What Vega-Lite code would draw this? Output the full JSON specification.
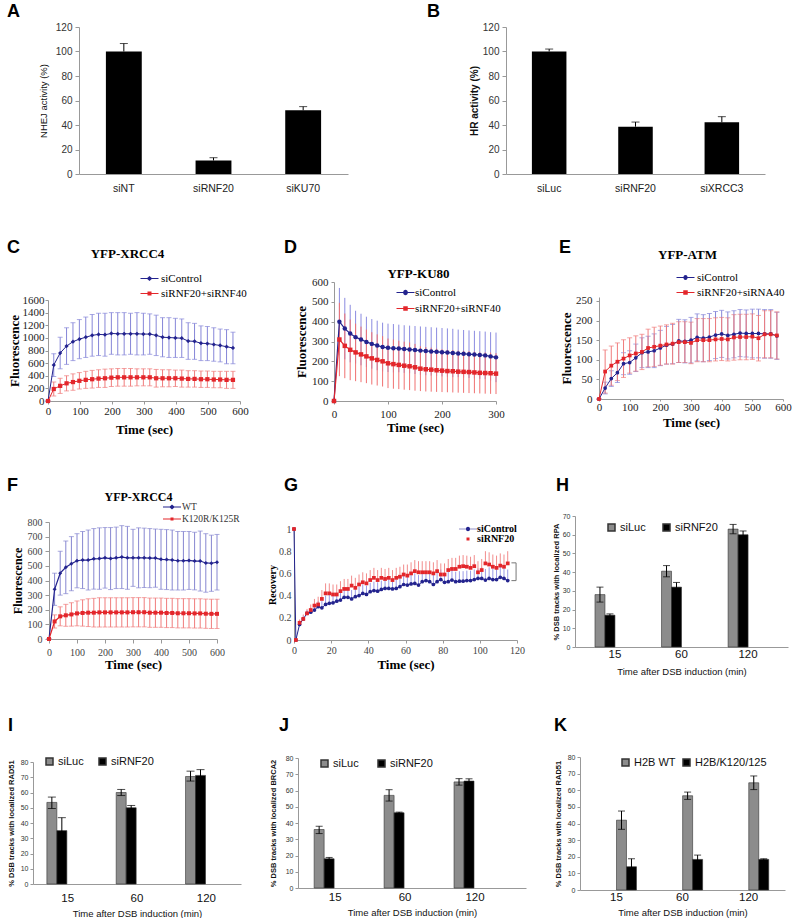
{
"$schema":"https://vega.github.io/schema/vega-lite/v6.json",
"padding":{"left":6,"top":2,"right":0,"bottom":0},
"background":"white",
"config":{
 "view":{"stroke":null},
 "font":"Liberation Sans",
 "axis":{"grid":false,"domainColor":"#999","tickColor":"#999","labelColor":"#333","titleColor":"#111","labelFont":"Liberation Sans","titleFont":"Liberation Sans","labelFlush":false,"labelOverlap":false,"labelBound":false},
 "title":{"font":"Liberation Sans","fontSize":18,"fontWeight":"bold","anchor":"start","frame":"group","color":"#000","baseline":"alphabetic"},
 "legend":{"padding":0}
},
"datasets":{
 "a":[{"c":"siNT","v":100,"hi":106.5},{"c":"siRNF20","v":11,"hi":13.3},{"c":"siKU70","v":52,"hi":55}],
 "b":[{"c":"siLuc","v":100,"hi":102},{"c":"siRNF20","v":38.6,"hi":42.4},{"c":"siXRCC3","v":42.2,"hi":46.8}],
 "c":[
{"t":0,"s":"siControl","v":0,"e":0},{"t":18,"s":"siControl","v":570,"e":180},{"t":38,"s":"siControl","v":760,"e":250},{"t":58,"s":"siControl","v":870,"e":290},{"t":78,"s":"siControl","v":940,"e":300},{"t":98,"s":"siControl","v":980,"e":310},{"t":118,"s":"siControl","v":1010,"e":320},{"t":138,"s":"siControl","v":1040,"e":330},{"t":158,"s":"siControl","v":1055,"e":335},{"t":178,"s":"siControl","v":1050,"e":340},{"t":198,"s":"siControl","v":1070,"e":330},{"t":218,"s":"siControl","v":1065,"e":335},{"t":238,"s":"siControl","v":1065,"e":335},{"t":258,"s":"siControl","v":1065,"e":325},{"t":278,"s":"siControl","v":1065,"e":335},{"t":298,"s":"siControl","v":1060,"e":330},{"t":318,"s":"siControl","v":1060,"e":320},{"t":338,"s":"siControl","v":1040,"e":320},{"t":358,"s":"siControl","v":1010,"e":310},{"t":378,"s":"siControl","v":1005,"e":315},{"t":398,"s":"siControl","v":1000,"e":310},{"t":418,"s":"siControl","v":995,"e":305},{"t":438,"s":"siControl","v":950,"e":290},{"t":458,"s":"siControl","v":945,"e":285},{"t":478,"s":"siControl","v":915,"e":275},{"t":498,"s":"siControl","v":910,"e":270},{"t":518,"s":"siControl","v":895,"e":265},{"t":538,"s":"siControl","v":880,"e":260},{"t":558,"s":"siControl","v":860,"e":270},{"t":578,"s":"siControl","v":840,"e":250},
{"t":0,"s":"siRNF20+siRNF40","v":0,"e":0},{"t":18,"s":"siRNF20+siRNF40","v":190,"e":110},{"t":38,"s":"siRNF20+siRNF40","v":240,"e":120},{"t":58,"s":"siRNF20+siRNF40","v":280,"e":120},{"t":78,"s":"siRNF20+siRNF40","v":300,"e":130},{"t":98,"s":"siRNF20+siRNF40","v":320,"e":130},{"t":118,"s":"siRNF20+siRNF40","v":335,"e":135},{"t":138,"s":"siRNF20+siRNF40","v":345,"e":140},{"t":158,"s":"siRNF20+siRNF40","v":355,"e":140},{"t":178,"s":"siRNF20+siRNF40","v":360,"e":145},{"t":198,"s":"siRNF20+siRNF40","v":370,"e":140},{"t":218,"s":"siRNF20+siRNF40","v":375,"e":140},{"t":238,"s":"siRNF20+siRNF40","v":375,"e":140},{"t":258,"s":"siRNF20+siRNF40","v":375,"e":140},{"t":278,"s":"siRNF20+siRNF40","v":375,"e":135},{"t":298,"s":"siRNF20+siRNF40","v":375,"e":135},{"t":318,"s":"siRNF20+siRNF40","v":375,"e":135},{"t":338,"s":"siRNF20+siRNF40","v":360,"e":140},{"t":358,"s":"siRNF20+siRNF40","v":360,"e":135},{"t":378,"s":"siRNF20+siRNF40","v":360,"e":135},{"t":398,"s":"siRNF20+siRNF40","v":360,"e":130},{"t":418,"s":"siRNF20+siRNF40","v":355,"e":135},{"t":438,"s":"siRNF20+siRNF40","v":350,"e":130},{"t":458,"s":"siRNF20+siRNF40","v":350,"e":130},{"t":478,"s":"siRNF20+siRNF40","v":345,"e":130},{"t":498,"s":"siRNF20+siRNF40","v":345,"e":130},{"t":518,"s":"siRNF20+siRNF40","v":340,"e":130},{"t":538,"s":"siRNF20+siRNF40","v":340,"e":130},{"t":558,"s":"siRNF20+siRNF40","v":335,"e":135},{"t":578,"s":"siRNF20+siRNF40","v":335,"e":135}],
 "d":[
{"t":0,"s":"siControl","v":0,"e":0},{"t":10,"s":"siControl","v":400,"e":170},{"t":20,"s":"siControl","v":365,"e":155},{"t":30,"s":"siControl","v":340,"e":145},{"t":40,"s":"siControl","v":322,"e":133},{"t":50,"s":"siControl","v":310,"e":130},{"t":60,"s":"siControl","v":298,"e":127},{"t":70,"s":"siControl","v":288,"e":125},{"t":80,"s":"siControl","v":280,"e":125},{"t":90,"s":"siControl","v":272,"e":123},{"t":100,"s":"siControl","v":268,"e":122},{"t":110,"s":"siControl","v":266,"e":122},{"t":120,"s":"siControl","v":265,"e":120},{"t":130,"s":"siControl","v":262,"e":120},{"t":140,"s":"siControl","v":260,"e":120},{"t":150,"s":"siControl","v":257,"e":121},{"t":160,"s":"siControl","v":254,"e":122},{"t":170,"s":"siControl","v":252,"e":122},{"t":180,"s":"siControl","v":250,"e":122},{"t":190,"s":"siControl","v":248,"e":122},{"t":200,"s":"siControl","v":246,"e":122},{"t":210,"s":"siControl","v":244,"e":122},{"t":220,"s":"siControl","v":242,"e":122},{"t":230,"s":"siControl","v":240,"e":120},{"t":240,"s":"siControl","v":238,"e":120},{"t":250,"s":"siControl","v":236,"e":120},{"t":260,"s":"siControl","v":234,"e":120},{"t":270,"s":"siControl","v":232,"e":120},{"t":280,"s":"siControl","v":230,"e":120},{"t":290,"s":"siControl","v":225,"e":122},{"t":300,"s":"siControl","v":220,"e":125},
{"t":0,"s":"siRNF20+siRNF40","v":0,"e":0},{"t":10,"s":"siRNF20+siRNF40","v":310,"e":185},{"t":20,"s":"siRNF20+siRNF40","v":278,"e":163},{"t":30,"s":"siRNF20+siRNF40","v":258,"e":153},{"t":40,"s":"siRNF20+siRNF40","v":245,"e":145},{"t":50,"s":"siRNF20+siRNF40","v":235,"e":140},{"t":60,"s":"siRNF20+siRNF40","v":225,"e":135},{"t":70,"s":"siRNF20+siRNF40","v":215,"e":132},{"t":80,"s":"siRNF20+siRNF40","v":207,"e":129},{"t":90,"s":"siRNF20+siRNF40","v":200,"e":127},{"t":100,"s":"siRNF20+siRNF40","v":190,"e":125},{"t":110,"s":"siRNF20+siRNF40","v":186,"e":124},{"t":120,"s":"siRNF20+siRNF40","v":182,"e":122},{"t":130,"s":"siRNF20+siRNF40","v":178,"e":121},{"t":140,"s":"siRNF20+siRNF40","v":175,"e":120},{"t":150,"s":"siRNF20+siRNF40","v":170,"e":118},{"t":160,"s":"siRNF20+siRNF40","v":163,"e":113},{"t":170,"s":"siRNF20+siRNF40","v":160,"e":112},{"t":180,"s":"siRNF20+siRNF40","v":158,"e":111},{"t":190,"s":"siRNF20+siRNF40","v":155,"e":109},{"t":200,"s":"siRNF20+siRNF40","v":153,"e":108},{"t":210,"s":"siRNF20+siRNF40","v":151,"e":107},{"t":220,"s":"siRNF20+siRNF40","v":150,"e":107},{"t":230,"s":"siRNF20+siRNF40","v":148,"e":106},{"t":240,"s":"siRNF20+siRNF40","v":147,"e":106},{"t":250,"s":"siRNF20+siRNF40","v":146,"e":106},{"t":260,"s":"siRNF20+siRNF40","v":144,"e":105},{"t":270,"s":"siRNF20+siRNF40","v":142,"e":104},{"t":280,"s":"siRNF20+siRNF40","v":141,"e":104},{"t":290,"s":"siRNF20+siRNF40","v":140,"e":104},{"t":300,"s":"siRNF20+siRNF40","v":138,"e":103}],
 "e":[
{"t":0,"s":"siControl","v":0,"e":0},{"t":20,"s":"siControl","v":28,"e":15},{"t":40,"s":"siControl","v":52,"e":20},{"t":60,"s":"siControl","v":67,"e":25},{"t":80,"s":"siControl","v":90,"e":28},{"t":100,"s":"siControl","v":93,"e":30},{"t":120,"s":"siControl","v":105,"e":35},{"t":140,"s":"siControl","v":118,"e":38},{"t":160,"s":"siControl","v":120,"e":40},{"t":180,"s":"siControl","v":123,"e":43},{"t":200,"s":"siControl","v":130,"e":45},{"t":220,"s":"siControl","v":137,"e":48},{"t":240,"s":"siControl","v":140,"e":50},{"t":260,"s":"siControl","v":148,"e":55},{"t":280,"s":"siControl","v":147,"e":55},{"t":300,"s":"siControl","v":150,"e":58},{"t":320,"s":"siControl","v":157,"e":60},{"t":340,"s":"siControl","v":155,"e":60},{"t":360,"s":"siControl","v":158,"e":60},{"t":380,"s":"siControl","v":163,"e":60},{"t":400,"s":"siControl","v":166,"e":60},{"t":420,"s":"siControl","v":162,"e":60},{"t":440,"s":"siControl","v":165,"e":60},{"t":460,"s":"siControl","v":168,"e":60},{"t":480,"s":"siControl","v":167,"e":60},{"t":500,"s":"siControl","v":167,"e":62},{"t":520,"s":"siControl","v":167,"e":62},{"t":540,"s":"siControl","v":166,"e":62},{"t":560,"s":"siControl","v":166,"e":62},{"t":580,"s":"siControl","v":161,"e":60},
{"t":0,"s":"siRNF20+siRNA40","v":0,"e":0},{"t":20,"s":"siRNF20+siRNA40","v":70,"e":55},{"t":40,"s":"siRNF20+siRNA40","v":85,"e":50},{"t":60,"s":"siRNF20+siRNA40","v":95,"e":48},{"t":80,"s":"siRNF20+siRNA40","v":103,"e":48},{"t":100,"s":"siRNF20+siRNA40","v":111,"e":45},{"t":120,"s":"siRNF20+siRNA40","v":116,"e":45},{"t":140,"s":"siRNF20+siRNA40","v":120,"e":45},{"t":160,"s":"siRNF20+siRNA40","v":130,"e":48},{"t":180,"s":"siRNF20+siRNA40","v":133,"e":50},{"t":200,"s":"siRNF20+siRNA40","v":136,"e":50},{"t":220,"s":"siRNF20+siRNA40","v":139,"e":50},{"t":240,"s":"siRNF20+siRNA40","v":141,"e":52},{"t":260,"s":"siRNF20+siRNA40","v":145,"e":52},{"t":280,"s":"siRNF20+siRNA40","v":145,"e":52},{"t":300,"s":"siRNF20+siRNA40","v":143,"e":53},{"t":320,"s":"siRNF20+siRNA40","v":150,"e":55},{"t":340,"s":"siRNF20+siRNA40","v":150,"e":55},{"t":360,"s":"siRNF20+siRNA40","v":150,"e":55},{"t":380,"s":"siRNF20+siRNA40","v":152,"e":55},{"t":400,"s":"siRNF20+siRNA40","v":153,"e":55},{"t":420,"s":"siRNF20+siRNA40","v":152,"e":55},{"t":440,"s":"siRNF20+siRNA40","v":157,"e":58},{"t":460,"s":"siRNF20+siRNA40","v":158,"e":58},{"t":480,"s":"siRNF20+siRNA40","v":158,"e":58},{"t":500,"s":"siRNF20+siRNA40","v":159,"e":58},{"t":520,"s":"siRNF20+siRNA40","v":155,"e":58},{"t":540,"s":"siRNF20+siRNA40","v":165,"e":60},{"t":560,"s":"siRNF20+siRNA40","v":165,"e":60},{"t":580,"s":"siRNF20+siRNA40","v":162,"e":60}],
 "f":[
{"t":0,"s":"WT","v":0,"e":0},{"t":20,"s":"WT","v":340,"e":110},{"t":40,"s":"WT","v":450,"e":150},{"t":60,"s":"WT","v":490,"e":180},{"t":80,"s":"WT","v":515,"e":185},{"t":100,"s":"WT","v":535,"e":185},{"t":120,"s":"WT","v":540,"e":195},{"t":140,"s":"WT","v":540,"e":205},{"t":160,"s":"WT","v":548,"e":207},{"t":180,"s":"WT","v":550,"e":210},{"t":200,"s":"WT","v":555,"e":207},{"t":220,"s":"WT","v":550,"e":212},{"t":240,"s":"WT","v":555,"e":210},{"t":260,"s":"WT","v":560,"e":215},{"t":280,"s":"WT","v":555,"e":215},{"t":300,"s":"WT","v":555,"e":195},{"t":320,"s":"WT","v":555,"e":205},{"t":340,"s":"WT","v":555,"e":203},{"t":360,"s":"WT","v":553,"e":202},{"t":380,"s":"WT","v":553,"e":199},{"t":400,"s":"WT","v":545,"e":205},{"t":420,"s":"WT","v":543,"e":205},{"t":440,"s":"WT","v":540,"e":205},{"t":460,"s":"WT","v":535,"e":200},{"t":480,"s":"WT","v":535,"e":200},{"t":500,"s":"WT","v":537,"e":198},{"t":520,"s":"WT","v":533,"e":197},{"t":540,"s":"WT","v":533,"e":205},{"t":560,"s":"WT","v":520,"e":200},{"t":580,"s":"WT","v":518,"e":192},{"t":600,"s":"WT","v":525,"e":190},
{"t":0,"s":"K120R/K125R","v":0,"e":0},{"t":20,"s":"K120R/K125R","v":120,"e":45},{"t":40,"s":"K120R/K125R","v":155,"e":65},{"t":60,"s":"K120R/K125R","v":162,"e":75},{"t":80,"s":"K120R/K125R","v":168,"e":80},{"t":100,"s":"K120R/K125R","v":175,"e":85},{"t":120,"s":"K120R/K125R","v":178,"e":90},{"t":140,"s":"K120R/K125R","v":180,"e":95},{"t":160,"s":"K120R/K125R","v":180,"e":98},{"t":180,"s":"K120R/K125R","v":182,"e":100},{"t":200,"s":"K120R/K125R","v":182,"e":100},{"t":220,"s":"K120R/K125R","v":182,"e":100},{"t":240,"s":"K120R/K125R","v":182,"e":100},{"t":260,"s":"K120R/K125R","v":182,"e":100},{"t":280,"s":"K120R/K125R","v":182,"e":100},{"t":300,"s":"K120R/K125R","v":183,"e":100},{"t":320,"s":"K120R/K125R","v":183,"e":100},{"t":340,"s":"K120R/K125R","v":183,"e":100},{"t":360,"s":"K120R/K125R","v":180,"e":100},{"t":380,"s":"K120R/K125R","v":180,"e":100},{"t":400,"s":"K120R/K125R","v":180,"e":100},{"t":420,"s":"K120R/K125R","v":178,"e":100},{"t":440,"s":"K120R/K125R","v":178,"e":100},{"t":460,"s":"K120R/K125R","v":176,"e":100},{"t":480,"s":"K120R/K125R","v":176,"e":100},{"t":500,"s":"K120R/K125R","v":176,"e":100},{"t":520,"s":"K120R/K125R","v":175,"e":100},{"t":540,"s":"K120R/K125R","v":175,"e":100},{"t":560,"s":"K120R/K125R","v":173,"e":100},{"t":580,"s":"K120R/K125R","v":172,"e":100},{"t":600,"s":"K120R/K125R","v":172,"e":100}],
 "g":[
{"t":0,"s":"siControl","v":1,"hi":1},{"t":1,"s":"siControl","v":0,"hi":0},{"t":3,"s":"siControl","v":0.14,"hi":0.16},{"t":5,"s":"siControl","v":0.19,"hi":0.22},{"t":7,"s":"siControl","v":0.24,"hi":0.27},{"t":9,"s":"siControl","v":0.25,"hi":0.29},{"t":11,"s":"siControl","v":0.27,"hi":0.32},{"t":13,"s":"siControl","v":0.3,"hi":0.35},{"t":15,"s":"siControl","v":0.29,"hi":0.35},{"t":17,"s":"siControl","v":0.32,"hi":0.4},{"t":19,"s":"siControl","v":0.33,"hi":0.41},{"t":21,"s":"siControl","v":0.335,"hi":0.415},{"t":23,"s":"siControl","v":0.35,"hi":0.43},{"t":25,"s":"siControl","v":0.36,"hi":0.44},{"t":27,"s":"siControl","v":0.385,"hi":0.465},{"t":29,"s":"siControl","v":0.385,"hi":0.465},{"t":31,"s":"siControl","v":0.37,"hi":0.45},{"t":33,"s":"siControl","v":0.39,"hi":0.47},{"t":35,"s":"siControl","v":0.4,"hi":0.48},{"t":37,"s":"siControl","v":0.42,"hi":0.5},{"t":39,"s":"siControl","v":0.41,"hi":0.49},{"t":41,"s":"siControl","v":0.435,"hi":0.515},{"t":43,"s":"siControl","v":0.445,"hi":0.525},{"t":45,"s":"siControl","v":0.44,"hi":0.52},{"t":47,"s":"siControl","v":0.455,"hi":0.535},{"t":49,"s":"siControl","v":0.465,"hi":0.545},{"t":51,"s":"siControl","v":0.465,"hi":0.545},{"t":53,"s":"siControl","v":0.46,"hi":0.54},{"t":55,"s":"siControl","v":0.465,"hi":0.545},{"t":57,"s":"siControl","v":0.48,"hi":0.56},{"t":59,"s":"siControl","v":0.5,"hi":0.58},{"t":61,"s":"siControl","v":0.495,"hi":0.585},{"t":63,"s":"siControl","v":0.505,"hi":0.595},{"t":65,"s":"siControl","v":0.51,"hi":0.6},{"t":67,"s":"siControl","v":0.495,"hi":0.585},{"t":69,"s":"siControl","v":0.525,"hi":0.615},{"t":71,"s":"siControl","v":0.535,"hi":0.625},{"t":73,"s":"siControl","v":0.525,"hi":0.615},{"t":75,"s":"siControl","v":0.5,"hi":0.59},{"t":77,"s":"siControl","v":0.525,"hi":0.615},{"t":79,"s":"siControl","v":0.545,"hi":0.635},{"t":81,"s":"siControl","v":0.52,"hi":0.61},{"t":83,"s":"siControl","v":0.525,"hi":0.615},{"t":85,"s":"siControl","v":0.54,"hi":0.63},{"t":87,"s":"siControl","v":0.525,"hi":0.615},{"t":89,"s":"siControl","v":0.53,"hi":0.62},{"t":91,"s":"siControl","v":0.53,"hi":0.62},{"t":93,"s":"siControl","v":0.535,"hi":0.625},{"t":95,"s":"siControl","v":0.535,"hi":0.625},{"t":97,"s":"siControl","v":0.545,"hi":0.635},{"t":99,"s":"siControl","v":0.555,"hi":0.645},{"t":101,"s":"siControl","v":0.555,"hi":0.655},{"t":103,"s":"siControl","v":0.54,"hi":0.64},{"t":105,"s":"siControl","v":0.555,"hi":0.655},{"t":107,"s":"siControl","v":0.545,"hi":0.645},{"t":109,"s":"siControl","v":0.545,"hi":0.645},{"t":111,"s":"siControl","v":0.565,"hi":0.665},{"t":113,"s":"siControl","v":0.555,"hi":0.655},{"t":115,"s":"siControl","v":0.535,"hi":0.635},
{"t":0,"s":"siRNF20","v":1,"hi":1},{"t":1,"s":"siRNF20","v":0,"hi":0},{"t":3,"s":"siRNF20","v":0.155,"hi":0.185},{"t":5,"s":"siRNF20","v":0.19,"hi":0.23},{"t":7,"s":"siRNF20","v":0.24,"hi":0.28},{"t":9,"s":"siRNF20","v":0.27,"hi":0.32},{"t":11,"s":"siRNF20","v":0.31,"hi":0.37},{"t":13,"s":"siRNF20","v":0.32,"hi":0.39},{"t":15,"s":"siRNF20","v":0.37,"hi":0.45},{"t":17,"s":"siRNF20","v":0.42,"hi":0.51},{"t":19,"s":"siRNF20","v":0.42,"hi":0.51},{"t":21,"s":"siRNF20","v":0.41,"hi":0.5},{"t":23,"s":"siRNF20","v":0.41,"hi":0.5},{"t":25,"s":"siRNF20","v":0.44,"hi":0.53},{"t":27,"s":"siRNF20","v":0.46,"hi":0.55},{"t":29,"s":"siRNF20","v":0.46,"hi":0.55},{"t":31,"s":"siRNF20","v":0.49,"hi":0.58},{"t":33,"s":"siRNF20","v":0.47,"hi":0.56},{"t":35,"s":"siRNF20","v":0.5,"hi":0.59},{"t":37,"s":"siRNF20","v":0.52,"hi":0.61},{"t":39,"s":"siRNF20","v":0.51,"hi":0.6},{"t":41,"s":"siRNF20","v":0.54,"hi":0.63},{"t":43,"s":"siRNF20","v":0.56,"hi":0.65},{"t":45,"s":"siRNF20","v":0.54,"hi":0.63},{"t":47,"s":"siRNF20","v":0.56,"hi":0.65},{"t":49,"s":"siRNF20","v":0.55,"hi":0.64},{"t":51,"s":"siRNF20","v":0.56,"hi":0.65},{"t":53,"s":"siRNF20","v":0.54,"hi":0.63},{"t":55,"s":"siRNF20","v":0.56,"hi":0.65},{"t":57,"s":"siRNF20","v":0.57,"hi":0.66},{"t":59,"s":"siRNF20","v":0.59,"hi":0.68},{"t":61,"s":"siRNF20","v":0.58,"hi":0.68},{"t":63,"s":"siRNF20","v":0.6,"hi":0.7},{"t":65,"s":"siRNF20","v":0.62,"hi":0.72},{"t":67,"s":"siRNF20","v":0.61,"hi":0.71},{"t":69,"s":"siRNF20","v":0.61,"hi":0.71},{"t":71,"s":"siRNF20","v":0.61,"hi":0.71},{"t":73,"s":"siRNF20","v":0.61,"hi":0.71},{"t":75,"s":"siRNF20","v":0.6,"hi":0.7},{"t":77,"s":"siRNF20","v":0.62,"hi":0.72},{"t":79,"s":"siRNF20","v":0.59,"hi":0.69},{"t":81,"s":"siRNF20","v":0.59,"hi":0.69},{"t":83,"s":"siRNF20","v":0.63,"hi":0.73},{"t":85,"s":"siRNF20","v":0.64,"hi":0.74},{"t":87,"s":"siRNF20","v":0.64,"hi":0.74},{"t":89,"s":"siRNF20","v":0.66,"hi":0.76},{"t":91,"s":"siRNF20","v":0.665,"hi":0.765},{"t":93,"s":"siRNF20","v":0.66,"hi":0.76},{"t":95,"s":"siRNF20","v":0.65,"hi":0.75},{"t":97,"s":"siRNF20","v":0.665,"hi":0.765},{"t":99,"s":"siRNF20","v":0.61,"hi":0.71},{"t":101,"s":"siRNF20","v":0.63,"hi":0.73},{"t":103,"s":"siRNF20","v":0.69,"hi":0.8},{"t":105,"s":"siRNF20","v":0.68,"hi":0.79},{"t":107,"s":"siRNF20","v":0.66,"hi":0.77},{"t":109,"s":"siRNF20","v":0.65,"hi":0.76},{"t":111,"s":"siRNF20","v":0.67,"hi":0.78},{"t":113,"s":"siRNF20","v":0.66,"hi":0.77},{"t":115,"s":"siRNF20","v":0.69,"hi":0.8}],
 "gb":[{"t":117,"v":0.535,"o":1},{"t":119.5,"v":0.535,"o":2},{"t":119.5,"v":0.695,"o":3},{"t":117,"v":0.695,"o":4}],
 "h":[{"m":"15","s":"siLuc","v":28,"lo":24,"hi":32},{"m":"15","s":"siRNF20","v":17,"lo":16.3,"hi":17.7},{"m":"60","s":"siLuc","v":40.5,"lo":37.5,"hi":43.5},{"m":"60","s":"siRNF20","v":32,"lo":29.5,"hi":34.5},{"m":"120","s":"siLuc","v":63,"lo":60.5,"hi":65.5},{"m":"120","s":"siRNF20","v":60,"lo":58,"hi":62}],
 "i":[{"m":"15","s":"siLuc","v":53.5,"lo":49.5,"hi":57},{"m":"15","s":"siRNF20","v":35,"lo":26.5,"hi":43.5},{"m":"60","s":"siLuc","v":60,"lo":58,"hi":62},{"m":"60","s":"siRNF20","v":50,"lo":49,"hi":51.5},{"m":"120","s":"siLuc","v":70.5,"lo":67.5,"hi":74},{"m":"120","s":"siRNF20","v":71.2,"lo":67.5,"hi":75}],
 "j":[{"m":"15","s":"siLuc","v":36,"lo":33.5,"hi":38},{"m":"15","s":"siRNF20","v":18,"lo":17.3,"hi":18.8},{"m":"60","s":"siLuc","v":57,"lo":53.5,"hi":60.5},{"m":"60","s":"siRNF20","v":46.3,"lo":45.9,"hi":46.7},{"m":"120","s":"siLuc","v":65.3,"lo":63.3,"hi":67.3},{"m":"120","s":"siRNF20","v":65.8,"lo":64.4,"hi":67.2}],
 "k":[{"m":"15","s":"H2B WT","v":42,"lo":36.5,"hi":47.5},{"m":"15","s":"H2B/K120/125","v":14,"lo":9.2,"hi":18.8},{"m":"60","s":"H2B WT","v":56.7,"lo":54.5,"hi":58.9},{"m":"60","s":"H2B/K120/125","v":18.4,"lo":15.8,"hi":21},{"m":"120","s":"H2B WT","v":64.5,"lo":60.4,"hi":68.6},{"m":"120","s":"H2B/K120/125","v":18.4,"lo":18,"hi":18.8}]
},
"resolve":{"scale":{"color":"independent","shape":"independent"},"legend":{"color":"independent","shape":"independent"}},
"spacing":40,
"vconcat":[
{"hconcat":[{"width":1,"height":1,"data":{"values":[]},"mark":"point"},
{"hconcat":[
 {"vconcat":[{"width":1,"height":1,"data":{"values":[]},"mark":"point"},
 {"title":{"text":"A","dx":-72,"offset":1},"width":269,"height":147,"data":{"name":"a"},
  "resolve":{"axis":{"x":"independent","y":"independent"}},
  "layer":[
   {"mark":{"type":"bar","color":"#000"},"encoding":{
     "x":{"field":"c","type":"nominal","sort":null,"scale":{"paddingInner":0.6,"paddingOuter":0.3},"axis":{"orient":"bottom","title":null,"labelAngle":0,"ticks":false,"labelFontSize":10.5,"labelColor":"#222","labelPadding":9}},
     "y":{"field":"v","type":"quantitative","scale":{"domain":[0,120]},"axis":{"orient":"left","title":"NHEJ activity (%)","values":[0,20,40,60,80,100,120],"labelFontSize":10,"tickSize":4,"labelPadding":3,"titleFontSize":9.5,"titleFontWeight":"normal","titlePadding":7}}}},
   {"mark":{"type":"rule","color":"#000"},"encoding":{"x":{"field":"c","type":"nominal","sort":null,"axis":null},"y":{"field":"v","type":"quantitative","axis":null},"y2":{"field":"hi"}}},
   {"mark":{"type":"tick","color":"#000","orient":"horizontal","size":8,"thickness":1},"encoding":{"x":{"field":"c","type":"nominal","sort":null,"axis":null},"y":{"field":"hi","type":"quantitative","axis":null}}}
  ]}],"spacing":0,"resolve":{"scale":{"color":"independent","shape":"independent"},"legend":{"color":"independent","shape":"independent"}}},
 {"vconcat":[{"width":1,"height":1,"data":{"values":[]},"mark":"point"},
 {"title":{"text":"B","dx":-79,"offset":1},"width":259,"height":147,"data":{"name":"b"},
  "resolve":{"axis":{"x":"independent","y":"independent"}},
  "layer":[
   {"mark":{"type":"bar","color":"#000"},"encoding":{
     "x":{"field":"c","type":"nominal","sort":null,"scale":{"paddingInner":0.6,"paddingOuter":0.3},"axis":{"orient":"bottom","title":null,"labelAngle":0,"ticks":false,"labelFontSize":10.5,"labelColor":"#222","labelPadding":9}},
     "y":{"field":"v","type":"quantitative","scale":{"domain":[0,120]},"axis":{"orient":"left","title":"HR activity (%)","values":[0,20,40,60,80,100,120],"labelFontSize":10,"tickSize":4,"labelPadding":3,"titleFontSize":10,"titleFontWeight":"bold","titlePadding":3}}}},
   {"mark":{"type":"rule","color":"#000"},"encoding":{"x":{"field":"c","type":"nominal","sort":null,"axis":null},"y":{"field":"v","type":"quantitative","axis":null},"y2":{"field":"hi"}}},
   {"mark":{"type":"tick","color":"#000","orient":"horizontal","size":8,"thickness":1},"encoding":{"x":{"field":"c","type":"nominal","sort":null,"axis":null},"y":{"field":"hi","type":"quantitative","axis":null}}}
  ]}],"spacing":0,"resolve":{"scale":{"color":"independent","shape":"independent"},"legend":{"color":"independent","shape":"independent"}}}
],"spacing":79,"resolve":{"scale":{"color":"independent","shape":"independent"},"legend":{"color":"independent","shape":"independent"}}}
],"spacing":0,"resolve":{"scale":{"color":"independent","shape":"independent"},"legend":{"color":"independent","shape":"independent"}}},
{"hconcat":[{"width":1,"height":1,"data":{"values":[]},"mark":"point"},
{"hconcat":[
 {"vconcat":[{"width":1,"height":5,"data":{"values":[]},"mark":"point"},
 {"title":{"text":"C","dx":-41,"offset":0,"dy":10},"width":192,"height":101,"data":{"name":"c"},
  "resolve":{"scale":{"color":"independent","shape":"independent"},"legend":{"color":"independent","shape":"independent"},"axis":{"x":"independent","y":"independent"}},
  "layer":[
   {"mark":{"type":"errorbar","ticks":true,"thickness":1,"size":5},"encoding":{
     "x":{"field":"t","type":"quantitative","scale":{"domain":[0,600]},"axis":null},
     "y":{"field":"v","type":"quantitative","scale":{"domain":[0,1600]},"axis":null},
     "yError":{"field":"e"},
     "color":{"field":"s","type":"nominal","scale":{"domain":["siControl","siRNF20+siRNF40"],"range":["#8686d8","#f07c7c"]},"legend":null}}},
   {"mark":{"type":"line","strokeWidth":1},"encoding":{
     "x":{"field":"t","type":"quantitative","axis":{"orient":"bottom","title":"Time (sec)","values":[0,100,200,300,400,500,600],"labelFont":"Liberation Serif","labelFontSize":11,"labelColor":"#222","tickSize":3,"labelPadding":1,"titleFont":"Liberation Serif","titleFontSize":13,"titleFontWeight":"bold","titleColor":"#000","titlePadding":7}},
     "y":{"field":"v","type":"quantitative","axis":{"orient":"left","title":"Fluorescence","values":[0,200,400,600,800,1000,1200,1400,1600],"format":"d","labelFont":"Liberation Serif","labelFontSize":11,"labelColor":"#222","tickSize":3,"labelPadding":1,"titleFont":"Liberation Serif","titleFontSize":13,"titleFontWeight":"bold","titleColor":"#000","titlePadding":1}},
     "color":{"field":"s","type":"nominal","scale":{"domain":["siControl","siRNF20+siRNF40"],"range":["#23238e","#e3262b"]},"legend":null}}},
   {"mark":{"type":"point","filled":true,"opacity":1,"size":18},"encoding":{
     "x":{"field":"t","type":"quantitative","axis":null},"y":{"field":"v","type":"quantitative","axis":null},
     "color":{"field":"s","type":"nominal","scale":{"domain":["siControl","siRNF20+siRNF40"],"range":["#23238e","#e3262b"]},"legend":null},
     "shape":{"field":"s","type":"nominal","scale":{"domain":["siControl","siRNF20+siRNF40"],"range":["diamond","square"]},"legend":null}}},
   {"transform":[{"filter":"false"}],"mark":{"type":"point","filled":true,"opacity":1,"size":100},"encoding":{
     "x":{"field":"t","type":"quantitative","axis":{"orient":"top","title":"YFP-XRCC4","domain":false,"ticks":false,"labels":false,"titleFont":"Liberation Serif","titleFontSize":13,"titleFontWeight":"bold","titleColor":"#000","titleX":79,"titleY":-43,"titleBaseline":"alphabetic"}},
     "y":{"field":"v","type":"quantitative","axis":null},
     "color":{"field":"s","type":"nominal","scale":{"domain":["siControl","siRNF20+siRNF40"],"range":["#23238e","#e3262b"]},"legend":{"orient":"none","legendX":96,"legendY":-27,"title":null,"labelFont":"Liberation Serif","labelFontSize":11,"labelColor":"#000","symbolStrokeWidth":0,"rowPadding":3,"labelOffset":6}},
     "shape":{"field":"s","type":"nominal","scale":{"domain":["siControl","siRNF20+siRNF40"],"range":["M-1.8,-0.08H-0.45L0,-0.5L0.45,-0.08H1.8V0.08H0.45L0,0.5L-0.45,0.08H-1.8Z","M-1.8,-0.08H-0.4V-0.4H0.4V-0.08H1.8V0.08H0.4V0.4H-0.4V0.08H-1.8Z"]},"legend":{"orient":"none","legendX":96,"legendY":-27,"title":null,"labelFont":"Liberation Serif","labelFontSize":11,"labelColor":"#000","symbolStrokeWidth":0,"rowPadding":3,"labelOffset":6}}}}
  ]}],"spacing":0,"resolve":{"scale":{"color":"independent","shape":"independent"},"legend":{"color":"independent","shape":"independent"}}},
 {"vconcat":[{"width":1,"height":5,"data":{"values":[]},"mark":"point"},
 {"title":{"text":"D","dx":-50,"offset":10},"width":162,"height":119,"data":{"name":"d"},
  "resolve":{"scale":{"color":"independent","shape":"independent"},"legend":{"color":"independent","shape":"independent"},"axis":{"x":"independent","y":"independent"}},
  "layer":[
   {"mark":{"type":"errorbar","ticks":false,"thickness":1},"encoding":{
     "x":{"field":"t","type":"quantitative","scale":{"domain":[0,300]},"axis":null},
     "y":{"field":"v","type":"quantitative","scale":{"domain":[0,600]},"axis":null},
     "yError":{"field":"e"},
     "color":{"field":"s","type":"nominal","scale":{"domain":["siControl","siRNF20+siRNF40"],"range":["#8a8ae0","#f07070"]},"legend":null}}},
   {"mark":{"type":"line","strokeWidth":1.2},"encoding":{
     "x":{"field":"t","type":"quantitative","axis":{"orient":"bottom","title":"Time (sec)","values":[0,100,200,300],"labelFont":"Liberation Serif","labelFontSize":11,"labelColor":"#222","tickSize":3,"labelPadding":4,"titleFont":"Liberation Serif","titleFontSize":13,"titleFontWeight":"bold","titleColor":"#000","titlePadding":2}},
     "y":{"field":"v","type":"quantitative","axis":{"orient":"left","title":"Fluorescence","values":[0,100,200,300,400,500,600],"labelFont":"Liberation Serif","labelFontSize":11,"labelColor":"#222","tickSize":3,"labelPadding":3,"titleFont":"Liberation Serif","titleFontSize":13,"titleFontWeight":"bold","titleColor":"#000","titlePadding":3}},
     "color":{"field":"s","type":"nominal","scale":{"domain":["siControl","siRNF20+siRNF40"],"range":["#23238e","#e3262b"]},"legend":null}}},
   {"mark":{"type":"point","filled":true,"opacity":1,"size":20},"encoding":{
     "x":{"field":"t","type":"quantitative","axis":null},"y":{"field":"v","type":"quantitative","axis":null},
     "color":{"field":"s","type":"nominal","scale":{"domain":["siControl","siRNF20+siRNF40"],"range":["#23238e","#e3262b"]},"legend":null},
     "shape":{"field":"s","type":"nominal","scale":{"domain":["siControl","siRNF20+siRNF40"],"range":["circle","square"]},"legend":null}}},
   {"transform":[{"filter":"false"}],"mark":{"type":"point","filled":true,"opacity":1,"size":100},"encoding":{
     "x":{"field":"t","type":"quantitative","axis":{"orient":"top","title":"YFP-KU80","domain":false,"ticks":false,"labels":false,"titleFont":"Liberation Serif","titleFontSize":13,"titleFontWeight":"bold","titleColor":"#000","titleX":84,"titleY":-5,"titleBaseline":"alphabetic"}},
     "y":{"field":"v","type":"quantitative","axis":{"orient":"right","values":[0],"domain":false,"ticks":false,"labelColor":"transparent","labelPadding":22,"title":null}},
     "color":{"field":"s","type":"nominal","scale":{"domain":["siControl","siRNF20+siRNF40"],"range":["#23238e","#e3262b"]},"legend":{"orient":"none","legendX":66,"legendY":5,"title":null,"labelFont":"Liberation Serif","labelFontSize":11,"labelColor":"#000","symbolStrokeWidth":0,"rowPadding":4,"labelOffset":4}},
     "shape":{"field":"s","type":"nominal","scale":{"domain":["siControl","siRNF20+siRNF40"],"range":["M-1.8,-0.08H-0.45A0.45,0.45,0,1,1,0.45,-0.08H1.8V0.08H0.45A0.45,0.45,0,1,1,-0.45,0.08H-1.8Z","M-1.8,-0.08H-0.45V-0.45H0.45V-0.08H1.8V0.08H0.45V0.45H-0.45V0.08H-1.8Z"]},"legend":{"orient":"none","legendX":66,"legendY":5,"title":null,"labelFont":"Liberation Serif","labelFontSize":11,"labelColor":"#000","symbolStrokeWidth":0,"rowPadding":4,"labelOffset":4}}}}
  ]}],"spacing":0,"resolve":{"scale":{"color":"independent","shape":"independent"},"legend":{"color":"independent","shape":"independent"}}},
 {"vconcat":[{"width":1,"height":5,"data":{"values":[]},"mark":"point"},
 {"title":{"text":"E","dx":-40,"offset":0,"dy":9},"width":184,"height":102,"data":{"name":"e"},
  "resolve":{"scale":{"color":"independent","shape":"independent"},"legend":{"color":"independent","shape":"independent"},"axis":{"x":"independent","y":"independent"}},
  "layer":[
   {"mark":{"type":"errorbar","ticks":true,"thickness":1,"size":5},"encoding":{
     "x":{"field":"t","type":"quantitative","scale":{"domain":[0,600]},"axis":null},
     "y":{"field":"v","type":"quantitative","scale":{"domain":[0,250]},"axis":null},
     "yError":{"field":"e"},
     "color":{"field":"s","type":"nominal","scale":{"domain":["siControl","siRNF20+siRNA40"],"range":["#8686d8","#f07c7c"]},"legend":null}}},
   {"mark":{"type":"line","strokeWidth":1},"encoding":{
     "x":{"field":"t","type":"quantitative","axis":{"orient":"bottom","title":"Time (sec)","values":[0,100,200,300,400,500,600],"labelFont":"Liberation Serif","labelFontSize":11,"labelColor":"#222","tickSize":2,"labelPadding":0,"titleFont":"Liberation Serif","titleFontSize":13,"titleFontWeight":"bold","titleColor":"#000","titlePadding":4}},
     "y":{"field":"v","type":"quantitative","axis":{"orient":"left","title":"Fluorescence","values":[0,50,100,150,200,250],"labelFont":"Liberation Serif","labelFontSize":11,"labelColor":"#222","tickSize":3,"labelPadding":4,"titleFont":"Liberation Serif","titleFontSize":13,"titleFontWeight":"bold","titleColor":"#000","titlePadding":2}},
     "color":{"field":"s","type":"nominal","scale":{"domain":["siControl","siRNF20+siRNA40"],"range":["#23238e","#e3262b"]},"legend":null}}},
   {"mark":{"type":"point","filled":true,"opacity":1,"size":14},"encoding":{
     "x":{"field":"t","type":"quantitative","axis":null},"y":{"field":"v","type":"quantitative","axis":null},
     "color":{"field":"s","type":"nominal","scale":{"domain":["siControl","siRNF20+siRNA40"],"range":["#23238e","#e3262b"]},"legend":null},
     "shape":{"field":"s","type":"nominal","scale":{"domain":["siControl","siRNF20+siRNA40"],"range":["circle","square"]},"legend":null}}},
   {"transform":[{"filter":"false"}],"mark":{"type":"point","filled":true,"opacity":1,"size":100},"encoding":{
     "x":{"field":"t","type":"quantitative","axis":{"orient":"top","title":"YFP-ATM","domain":false,"ticks":false,"labels":false,"titleFont":"Liberation Serif","titleFontSize":13,"titleFontWeight":"bold","titleColor":"#000","titleX":88,"titleY":-39,"titleBaseline":"alphabetic"}},
     "y":{"field":"v","type":"quantitative","axis":null},
     "color":{"field":"s","type":"nominal","scale":{"domain":["siControl","siRNF20+siRNA40"],"range":["#23238e","#e3262b"]},"legend":{"orient":"none","legendX":81,"legendY":-25,"title":null,"labelFont":"Liberation Serif","labelFontSize":11,"labelColor":"#000","symbolStrokeWidth":0,"rowPadding":3,"labelOffset":6}},
     "shape":{"field":"s","type":"nominal","scale":{"domain":["siControl","siRNF20+siRNA40"],"range":["M-1.8,-0.08H-0.4A0.4,0.4,0,1,1,0.4,-0.08H1.8V0.08H0.4A0.4,0.4,0,1,1,-0.4,0.08H-1.8Z","M-1.8,-0.08H-0.45V-0.45H0.45V-0.08H1.8V0.08H0.45V0.45H-0.45V0.08H-1.8Z"]},"legend":{"orient":"none","legendX":81,"legendY":-25,"title":null,"labelFont":"Liberation Serif","labelFontSize":11,"labelColor":"#000","symbolStrokeWidth":0,"rowPadding":3,"labelOffset":6}}}}
  ]}],"spacing":0,"resolve":{"scale":{"color":"independent","shape":"independent"},"legend":{"color":"independent","shape":"independent"}}}
],"spacing":35,"resolve":{"scale":{"color":"independent","shape":"independent"},"legend":{"color":"independent","shape":"independent"}}}
],"spacing":0,"resolve":{"scale":{"color":"independent","shape":"independent"},"legend":{"color":"independent","shape":"independent"}}},
{"hconcat":[{"width":1,"height":1,"data":{"values":[]},"mark":"point"},
{"hconcat":[
 {"vconcat":[{"width":1,"height":1,"data":{"values":[]},"mark":"point"},
 {"title":{"text":"F","dx":-42,"offset":0,"dy":5},"width":168,"height":117,"data":{"name":"f"},
  "resolve":{"scale":{"color":"independent","shape":"independent"},"legend":{"color":"independent","shape":"independent"},"axis":{"x":"independent","y":"independent"}},
  "layer":[
   {"mark":{"type":"errorbar","ticks":true,"thickness":1,"size":5},"encoding":{
     "x":{"field":"t","type":"quantitative","scale":{"domain":[0,600]},"axis":null},
     "y":{"field":"v","type":"quantitative","scale":{"domain":[0,800]},"axis":null},
     "yError":{"field":"e"},
     "color":{"field":"s","type":"nominal","scale":{"domain":["WT","K120R/K125R"],"range":["#8686d0","#f07c7c"]},"legend":null}}},
   {"mark":{"type":"line","strokeWidth":1.2},"encoding":{
     "x":{"field":"t","type":"quantitative","axis":{"orient":"bottom","title":"Time (sec)","values":[0,100,200,300,400,500,600],"labelFont":"Liberation Serif","labelFontSize":10,"labelColor":"#444","tickSize":4,"labelPadding":4,"titleFont":"Liberation Serif","titleFontSize":13,"titleFontWeight":"bold","titleColor":"#000","titlePadding":1}},
     "y":{"field":"v","type":"quantitative","axis":{"orient":"left","title":"Fluorescence","values":[0,100,200,300,400,500,600,700,800],"labelFont":"Liberation Serif","labelFontSize":10,"labelColor":"#444","tickSize":4,"labelPadding":3,"titleFont":"Liberation Serif","titleFontSize":12,"titleFontWeight":"bold","titleColor":"#000","titlePadding":3}},
     "color":{"field":"s","type":"nominal","scale":{"domain":["WT","K120R/K125R"],"range":["#23238e","#e3262b"]},"legend":null}}},
   {"mark":{"type":"point","filled":true,"opacity":1,"size":16},"encoding":{
     "x":{"field":"t","type":"quantitative","axis":null},"y":{"field":"v","type":"quantitative","axis":null},
     "color":{"field":"s","type":"nominal","scale":{"domain":["WT","K120R/K125R"],"range":["#23238e","#e3262b"]},"legend":null},
     "shape":{"field":"s","type":"nominal","scale":{"domain":["WT","K120R/K125R"],"range":["diamond","square"]},"legend":null}}},
   {"transform":[{"filter":"false"}],"mark":{"type":"point","filled":true,"opacity":1,"size":100},"encoding":{
     "x":{"field":"t","type":"quantitative","axis":{"orient":"top","title":"YFP-XRCC4","domain":false,"ticks":false,"labels":false,"titleFont":"Liberation Serif","titleFontSize":12,"titleFontWeight":"bold","titleColor":"#000","titleX":89,"titleY":-22,"titleBaseline":"alphabetic"}},
     "y":{"field":"v","type":"quantitative","axis":null},
     "color":{"field":"s","type":"nominal","scale":{"domain":["WT","K120R/K125R"],"range":["#23238e","#e3262b"]},"legend":{"orient":"none","legendX":118,"legendY":-20,"title":null,"labelFont":"Liberation Serif","labelFontSize":9.5,"labelColor":"#333","symbolStrokeWidth":0,"rowPadding":2,"labelOffset":5}},
     "shape":{"field":"s","type":"nominal","scale":{"domain":["WT","K120R/K125R"],"range":["M-1.8,-0.08H-0.45L0,-0.5L0.45,-0.08H1.8V0.08H0.45L0,0.5L-0.45,0.08H-1.8Z","M-1.8,-0.08H-0.3V-0.3H0.3V-0.08H1.8V0.08H0.3V0.3H-0.3V0.08H-1.8Z"]},"legend":{"orient":"none","legendX":118,"legendY":-20,"title":null,"labelFont":"Liberation Serif","labelFontSize":9.5,"labelColor":"#333","symbolStrokeWidth":0,"rowPadding":2,"labelOffset":5}}}}
  ]}],"spacing":0,"resolve":{"scale":{"color":"independent","shape":"independent"},"legend":{"color":"independent","shape":"independent"}}},
 {"vconcat":[{"width":1,"height":1,"data":{"values":[]},"mark":"point"},
 {"title":{"text":"G","dx":-10,"offset":29},"width":223,"height":111,"data":{"name":"g"},
  "resolve":{"scale":{"color":"independent","shape":"independent"},"legend":{"color":"independent","shape":"independent"},"axis":{"x":"independent","y":"independent"}},
  "layer":[
   {"mark":{"type":"rule","strokeWidth":1},"encoding":{
     "x":{"field":"t","type":"quantitative","scale":{"domain":[0,120]},"axis":null},
     "y":{"field":"v","type":"quantitative","scale":{"domain":[0,1]},"axis":null},
     "y2":{"field":"hi"},
     "color":{"field":"s","type":"nominal","scale":{"domain":["siControl","siRNF20"],"range":["#9a9ae6","#f28c8c"]},"legend":null}}},
   {"transform":[{"filter":"datum.s === 'siControl'"}],"mark":{"type":"line","color":"#23238e","strokeWidth":1},"encoding":{
     "x":{"field":"t","type":"quantitative","axis":{"orient":"bottom","title":"Time (sec)","values":[0,20,40,60,80,100,120],"labelFont":"Liberation Serif","labelFontSize":10,"labelColor":"#444","tickSize":3,"labelPadding":2,"titleFont":"Liberation Serif","titleFontSize":13,"titleFontWeight":"bold","titleColor":"#000","titlePadding":3}},
     "y":{"field":"v","type":"quantitative","axis":{"orient":"left","title":"Recovery","values":[0,0.2,0.4,0.6,0.8,1],"format":"~g","labelFont":"Liberation Serif","labelFontSize":10,"labelColor":"#444","tickSize":0,"labelPadding":3,"titleFont":"Liberation Serif","titleFontSize":10,"titleFontWeight":"bold","titleColor":"#000","titlePadding":1}}}},
   {"mark":{"type":"point","filled":true,"opacity":1,"size":14},"encoding":{
     "x":{"field":"t","type":"quantitative","axis":null},"y":{"field":"v","type":"quantitative","axis":null},
     "color":{"field":"s","type":"nominal","scale":{"domain":["siControl","siRNF20"],"range":["#23238e","#e3262b"]},"legend":null},
     "shape":{"field":"s","type":"nominal","scale":{"domain":["siControl","siRNF20"],"range":["circle","square"]},"legend":null}}},
   {"data":{"name":"gb"},"mark":{"type":"line","color":"#777","strokeWidth":1},"encoding":{
     "x":{"field":"t","type":"quantitative","axis":null},"y":{"field":"v","type":"quantitative","axis":null},"order":{"field":"o"}}},
   {"transform":[{"filter":"false"}],"mark":{"type":"point","filled":true,"opacity":1,"size":100},"encoding":{
     "x":{"field":"t","type":"quantitative","axis":null},
     "y":{"field":"v","type":"quantitative","axis":null},
     "color":{"field":"s","type":"nominal","scale":{"domain":["siControl","siRNF20"],"range":["#23238e","#e3262b"]},"legend":{"orient":"none","legendX":169,"legendY":-5,"title":null,"labelFont":"Liberation Serif","labelFontSize":10,"labelFontWeight":"bold","labelColor":"#000","symbolStrokeWidth":0,"rowPadding":0,"labelOffset":4}},
     "shape":{"field":"s","type":"nominal","scale":{"domain":["siControl","siRNF20"],"range":["M-1.8,-0.07H-0.4A0.4,0.4,0,1,1,0.4,-0.07H1.8V0.07H0.4A0.4,0.4,0,1,1,-0.4,0.07H-1.8Z","M-0.3,-0.3H0.3V0.3H-0.3Z"]},"legend":{"orient":"none","legendX":169,"legendY":-5,"title":null,"labelFont":"Liberation Serif","labelFontSize":10,"labelFontWeight":"bold","labelColor":"#000","symbolStrokeWidth":0,"rowPadding":0,"labelOffset":4}}}}
  ]}],"spacing":0,"resolve":{"scale":{"color":"independent","shape":"independent"},"legend":{"color":"independent","shape":"independent"}}},
 {"vconcat":[{"width":1,"height":1,"data":{"values":[]},"mark":"point"},
 {"title":{"text":"H","dx":-19,"offset":17},"width":213,"height":131,"data":{"name":"h"},
  "resolve":{"axis":{"x":"independent","y":"independent"}},
  "layer":[
   {"mark":{"type":"bar","stroke":"#333","strokeWidth":0.6},"encoding":{
     "x":{"field":"m","type":"nominal","sort":null,"scale":{"paddingInner":0.4,"paddingOuter":0.3},"axis":{"orient":"bottom","title":"Time after DSB induction (min)","labelAngle":0,"ticks":false,"labelFontSize":11.5,"labelColor":"#111","labelPadding":1,"titleFontSize":9.5,"titleFontWeight":"normal","titlePadding":7}},
     "xOffset":{"field":"s","type":"nominal","sort":null},
     "y":{"field":"v","type":"quantitative","scale":{"domain":[0,70]},"axis":{"orient":"left","title":"% DSB tracks with localized RPA","values":[0,10,20,30,40,50,60,70],"labelFontSize":7,"tickSize":3,"labelPadding":2,"titleFontSize":7.5,"titleFontWeight":"bold","titlePadding":2}},
     "color":{"field":"s","type":"nominal","scale":{"domain":["siLuc","siRNF20"],"range":["#8c8c8c","#000000"]},"legend":{"orient":"none","legendX":31,"legendY":6,"direction":"horizontal","title":null,"symbolType":"square","symbolSize":49,"labelFontSize":11,"labelColor":"#111","labelOffset":3,"columnPadding":14}}}},
   {"mark":{"type":"rule","color":"#000","strokeWidth":1},"encoding":{"x":{"field":"m","type":"nominal","sort":null,"axis":null},"xOffset":{"field":"s","type":"nominal","sort":null},"y":{"field":"lo","type":"quantitative","axis":null},"y2":{"field":"hi"}}},
   {"mark":{"type":"tick","color":"#000","orient":"horizontal","size":7,"thickness":1},"encoding":{"x":{"field":"m","type":"nominal","sort":null,"axis":null},"xOffset":{"field":"s","type":"nominal","sort":null},"y":{"field":"hi","type":"quantitative","axis":null}}},
   {"mark":{"type":"tick","color":"#000","orient":"horizontal","size":7,"thickness":1},"encoding":{"x":{"field":"m","type":"nominal","sort":null,"axis":null},"xOffset":{"field":"s","type":"nominal","sort":null},"y":{"field":"lo","type":"quantitative","axis":null}}}
  ]}],"spacing":0,"resolve":{"scale":{"color":"independent","shape":"independent"},"legend":{"color":"independent","shape":"independent"}}}
],"spacing":27,"resolve":{"scale":{"color":"independent","shape":"independent"},"legend":{"color":"independent","shape":"independent"}}}
],"spacing":0,"resolve":{"scale":{"color":"independent","shape":"independent"},"legend":{"color":"independent","shape":"independent"}}},
{"hconcat":[{"width":1,"height":1,"data":{"values":[]},"mark":"point"},
{"hconcat":[
 {"vconcat":[{"width":1,"height":1,"data":{"values":[]},"mark":"point"},
 {"title":{"text":"I","dx":-25,"offset":21},"width":208,"height":122,"data":{"name":"i"},
  "resolve":{"axis":{"x":"independent","y":"independent"}},
  "layer":[
   {"mark":{"type":"bar","stroke":"#333","strokeWidth":0.6},"encoding":{
     "x":{"field":"m","type":"nominal","sort":null,"scale":{"paddingInner":0.4,"paddingOuter":0.2},"axis":{"orient":"bottom","title":"Time after DSB induction (min)","labelAngle":0,"ticks":false,"labelFontSize":11.5,"labelColor":"#111","labelPadding":8,"titleFontSize":9.5,"titleFontWeight":"normal","titlePadding":5}},
     "xOffset":{"field":"s","type":"nominal","sort":null},
     "y":{"field":"v","type":"quantitative","scale":{"domain":[0,80]},"axis":{"orient":"left","title":"% DSB tracks with localized RAD51","values":[0,10,20,30,40,50,60,70,80],"labelFontSize":7,"tickSize":3,"labelPadding":2,"titleFontSize":7.5,"titleFontWeight":"bold","titlePadding":5}},
     "color":{"field":"s","type":"nominal","scale":{"domain":["siLuc","siRNF20"],"range":["#8c8c8c","#000000"]},"legend":{"orient":"none","legendX":11,"legendY":-6,"direction":"horizontal","title":null,"symbolType":"square","symbolSize":49,"labelFontSize":11,"labelColor":"#111","labelOffset":3,"columnPadding":12}}}},
   {"mark":{"type":"rule","color":"#000","strokeWidth":1},"encoding":{"x":{"field":"m","type":"nominal","sort":null,"axis":null},"xOffset":{"field":"s","type":"nominal","sort":null},"y":{"field":"lo","type":"quantitative","axis":null},"y2":{"field":"hi"}}},
   {"mark":{"type":"tick","color":"#000","orient":"horizontal","size":8,"thickness":1},"encoding":{"x":{"field":"m","type":"nominal","sort":null,"axis":null},"xOffset":{"field":"s","type":"nominal","sort":null},"y":{"field":"hi","type":"quantitative","axis":null}}},
   {"mark":{"type":"tick","color":"#000","orient":"horizontal","size":8,"thickness":1},"encoding":{"x":{"field":"m","type":"nominal","sort":null,"axis":null},"xOffset":{"field":"s","type":"nominal","sort":null},"y":{"field":"lo","type":"quantitative","axis":null}}}
  ]}],"spacing":0,"resolve":{"scale":{"color":"independent","shape":"independent"},"legend":{"color":"independent","shape":"independent"}}},
 {"vconcat":[{"width":1,"height":1,"data":{"values":[]},"mark":"point"},
 {"title":{"text":"J","dx":-19,"offset":19},"width":228,"height":130,"data":{"name":"j"},
  "resolve":{"axis":{"x":"independent","y":"independent"}},
  "layer":[
   {"mark":{"type":"bar","stroke":"#333","strokeWidth":0.6},"encoding":{
     "x":{"field":"m","type":"nominal","sort":null,"scale":{"paddingInner":0.4,"paddingOuter":0.33,"align":0.35},"axis":{"orient":"bottom","title":"Time after DSB induction (min)","labelAngle":0,"ticks":false,"labelFontSize":11.5,"labelColor":"#111","labelPadding":3,"titleFontSize":9.5,"titleFontWeight":"normal","titlePadding":5}},
     "xOffset":{"field":"s","type":"nominal","sort":null},
     "y":{"field":"v","type":"quantitative","scale":{"domain":[0,80]},"axis":{"orient":"left","title":"% DSB tracks with localized BRCA2","values":[0,10,20,30,40,50,60,70,80],"labelFontSize":7,"tickSize":3,"labelPadding":2,"titleFontSize":7.5,"titleFontWeight":"bold","titlePadding":8}},
     "color":{"field":"s","type":"nominal","scale":{"domain":["siLuc","siRNF20"],"range":["#8c8c8c","#000000"]},"legend":{"orient":"none","legendX":21,"legendY":0,"direction":"horizontal","title":null,"symbolType":"square","symbolSize":49,"labelFontSize":11,"labelColor":"#111","labelOffset":3,"columnPadding":16}}}},
   {"mark":{"type":"rule","color":"#000","strokeWidth":1},"encoding":{"x":{"field":"m","type":"nominal","sort":null,"axis":null},"xOffset":{"field":"s","type":"nominal","sort":null},"y":{"field":"lo","type":"quantitative","axis":null},"y2":{"field":"hi"}}},
   {"mark":{"type":"tick","color":"#000","orient":"horizontal","size":7,"thickness":1},"encoding":{"x":{"field":"m","type":"nominal","sort":null,"axis":null},"xOffset":{"field":"s","type":"nominal","sort":null},"y":{"field":"hi","type":"quantitative","axis":null}}},
   {"mark":{"type":"tick","color":"#000","orient":"horizontal","size":7,"thickness":1},"encoding":{"x":{"field":"m","type":"nominal","sort":null,"axis":null},"xOffset":{"field":"s","type":"nominal","sort":null},"y":{"field":"lo","type":"quantitative","axis":null}}}
  ]}],"spacing":0,"resolve":{"scale":{"color":"independent","shape":"independent"},"legend":{"color":"independent","shape":"independent"}}},
 {"vconcat":[{"width":1,"height":1,"data":{"values":[]},"mark":"point"},
 {"title":{"text":"K","dx":-26,"offset":18},"width":205,"height":133,"data":{"name":"k"},
  "resolve":{"axis":{"x":"independent","y":"independent"}},
  "layer":[
   {"mark":{"type":"bar","stroke":"#333","strokeWidth":0.6},"encoding":{
     "x":{"field":"m","type":"nominal","sort":null,"scale":{"paddingInner":0.4,"paddingOuter":0.25},"axis":{"orient":"bottom","title":"Time after DSB induction (min)","labelAngle":0,"ticks":false,"labelFontSize":11.5,"labelColor":"#111","labelPadding":1,"titleFontSize":9.5,"titleFontWeight":"normal","titlePadding":5}},
     "xOffset":{"field":"s","type":"nominal","sort":null},
     "y":{"field":"v","type":"quantitative","scale":{"domain":[0,80]},"axis":{"orient":"left","title":"% DSB tracks with localized RAD51","values":[0,10,20,30,40,50,60,70,80],"labelFontSize":7,"tickSize":3,"labelPadding":2,"titleFontSize":7.5,"titleFontWeight":"bold","titlePadding":5}},
     "color":{"field":"s","type":"nominal","scale":{"domain":["H2B WT","H2B/K120/125"],"range":["#8c8c8c","#000000"]},"legend":{"orient":"none","legendX":40,"legendY":0,"direction":"horizontal","title":null,"symbolType":"square","symbolSize":49,"labelFontSize":11,"labelColor":"#111","labelOffset":3,"columnPadding":4}}}},
   {"mark":{"type":"rule","color":"#000","strokeWidth":1},"encoding":{"x":{"field":"m","type":"nominal","sort":null,"axis":null},"xOffset":{"field":"s","type":"nominal","sort":null},"y":{"field":"lo","type":"quantitative","axis":null},"y2":{"field":"hi"}}},
   {"mark":{"type":"tick","color":"#000","orient":"horizontal","size":7,"thickness":1},"encoding":{"x":{"field":"m","type":"nominal","sort":null,"axis":null},"xOffset":{"field":"s","type":"nominal","sort":null},"y":{"field":"hi","type":"quantitative","axis":null}}},
   {"mark":{"type":"tick","color":"#000","orient":"horizontal","size":7,"thickness":1},"encoding":{"x":{"field":"m","type":"nominal","sort":null,"axis":null},"xOffset":{"field":"s","type":"nominal","sort":null},"y":{"field":"lo","type":"quantitative","axis":null}}}
  ]}],"spacing":0,"resolve":{"scale":{"color":"independent","shape":"independent"},"legend":{"color":"independent","shape":"independent"}}}
],"spacing":28,"resolve":{"scale":{"color":"independent","shape":"independent"},"legend":{"color":"independent","shape":"independent"}}}
],"spacing":0,"resolve":{"scale":{"color":"independent","shape":"independent"},"legend":{"color":"independent","shape":"independent"}}}
]
}
